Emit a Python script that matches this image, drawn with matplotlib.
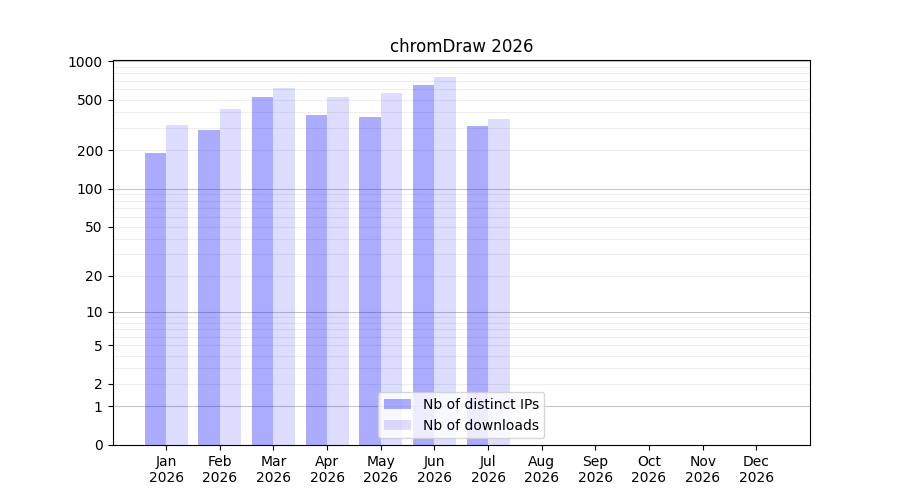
import numpy as np
import matplotlib
matplotlib.use("Agg")
import matplotlib.pyplot as plt

months = ["Jan", "Feb", "Mar", "Apr", "May", "Jun", "Jul", "Aug", "Sep", "Oct", "Nov", "Dec"]
year = "2026"
ips = [190, 287, 521, 377, 363, 650, 309]
downloads = [315, 420, 613, 521, 563, 747, 351]
ytick_vals = [0, 1, 2, 5, 10, 20, 50, 100, 200, 500, 1000]

fig, ax = plt.subplots(figsize=(9, 5), dpi=100)

def fwd(v):
    return np.log10(1 + np.clip(v, 0, None))

def inv(v):
    return 10 ** v - 1

ax.set_yscale("function", functions=(fwd, inv))

x = np.arange(1, len(ips) + 1)
ax.bar(x, ips, width=-0.4, align="edge", color="blue", alpha=0.33, label="Nb of distinct IPs", zorder=2)
ax.bar(x, downloads, width=0.4, align="edge", color="blue", alpha=0.133, label="Nb of downloads", zorder=2)

# grid lines
for dec in [1, 10, 100, 1000]:
    ax.axhline(dec, color="gray", alpha=0.45, linewidth=0.8, zorder=1)
for dec in [1, 10, 100]:
    for m in range(2, 10):
        ax.axhline(dec * m, color="gray", alpha=0.13, linewidth=0.8, zorder=1)

ax.set_ylim(0, 1020)
ax.set_yticks(ytick_vals)
ax.set_yticklabels([str(v) for v in ytick_vals])
ax.minorticks_off()

ax.set_xlim(0, 13)
ax.set_xticks(np.arange(1, 13))
ax.set_xticklabels([f"{m}\n{year}" for m in months])

ax.set_title("chromDraw 2026")
ax.legend(loc="lower center")

fig.savefig("out.png", dpi=100)
